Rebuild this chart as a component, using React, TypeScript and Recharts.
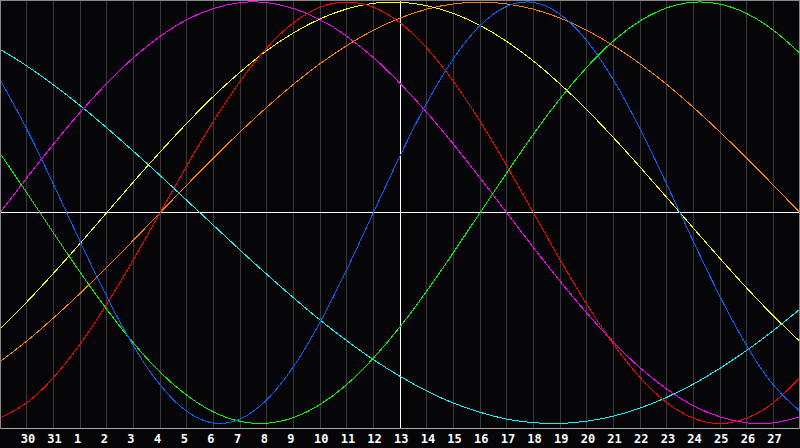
import React from 'react';
import { LineChart, Line, XAxis, YAxis, CartesianGrid, ReferenceLine } from 'recharts';

const dayLabels = ['29','30','31','1','2','3','4','5','6','7','8','9','10','11','12','13','14','15','16','17','18','19','20','21','22','23','24','25','26','27','28'];
const tickIdx = [1,2,3,4,5,6,7,8,9,10,11,12,13,14,15,16,17,18,19,20,21,22,23,24,25,26,27,28,29];

const red = [-0.975,-0.901,-0.782,-0.623,-0.434,-0.223,0,0.223,0.434,0.623,0.782,0.901,0.975,1.0,0.975,0.901,0.782,0.623,0.434,0.223,0,-0.223,-0.434,-0.623,-0.782,-0.901,-0.975,-1.0,-0.975,-0.901,-0.782];
const green = [0.282,0.095,-0.095,-0.282,-0.458,-0.618,-0.756,-0.866,-0.945,-0.990,-0.999,-0.972,-0.910,-0.815,-0.690,-0.541,-0.372,-0.189,0,0.189,0.372,0.541,0.690,0.815,0.910,0.972,0.999,0.990,0.945,0.866,0.756];
const blue = [0.631,0.398,0.136,-0.136,-0.398,-0.631,-0.817,-0.942,-0.998,-0.979,-0.888,-0.731,-0.520,-0.270,0,0.270,0.520,0.731,0.888,0.979,0.998,0.942,0.817,0.631,0.398,0.136,-0.136,-0.398,-0.631,-0.817,-0.942];
const cyan = [0.776,0.697,0.607,0.509,0.403,0.292,0.177,0.059,-0.059,-0.177,-0.292,-0.403,-0.509,-0.607,-0.697,-0.776,-0.846,-0.903,-0.947,-0.979,-0.996,-1.0,-0.989,-0.965,-0.927,-0.876,-0.813,-0.738,-0.653,-0.559,-0.457];
const magenta = [0,0.165,0.325,0.476,0.614,0.736,0.837,0.916,0.969,0.997,0.997,0.969,0.916,0.837,0.736,0.614,0.476,0.325,0.165,0,-0.165,-0.325,-0.476,-0.614,-0.736,-0.837,-0.916,-0.969,-0.997,-0.997,-0.969];
const yellow = [-0.552,-0.424,-0.288,-0.146,0,0.146,0.288,0.424,0.552,0.667,0.769,0.853,0.920,0.967,0.994,0.999,0.983,0.946,0.889,0.813,0.720,0.611,0.489,0.357,0.217,0.073,-0.073,-0.217,-0.357,-0.489,-0.611];
const orange = [-0.707,-0.609,-0.5,-0.383,-0.259,-0.131,0,0.131,0.259,0.383,0.5,0.609,0.707,0.793,0.866,0.924,0.966,0.991,1.0,0.991,0.966,0.924,0.866,0.793,0.707,0.609,0.5,0.383,0.259,0.131,0];

const data = dayLabels.map((d, i) => ({
  k: i,
  red: red[i],
  green: green[i],
  blue: blue[i],
  cyan: cyan[i],
  magenta: magenta[i],
  yellow: yellow[i],
  orange: orange[i],
}));

const series = [
  { key: 'cyan', color: '#00ffff' },
  { key: 'magenta', color: '#ff00ff' },
  { key: 'orange', color: '#ff8000' },
  { key: 'yellow', color: '#ffff00' },
  { key: 'green', color: '#00ff00' },
  { key: 'red', color: '#ff0000' },
  { key: 'blue', color: '#0066ff' },
];

const Tick = (props: any) => {
  const { x, payload } = props;
  return (
    <text x={x - 6} y={443} fill="#ffffff" fontSize={12} fontWeight="bold" fontFamily="DejaVu Sans Mono" textAnchor="start">
      {dayLabels[payload.value]}
    </text>
  );
};

export default function App() {
  return (
    <div style={{ position: 'absolute', left: 0, top: 0, width: 800, height: 448, background: '#050507' }}>
      <LineChart width={800} height={448} data={data} margin={{ top: 0, right: 0, left: 0, bottom: 0 }}>
        <CartesianGrid horizontal={false} vertical={true} stroke="#3a3a3a" strokeWidth={1} shapeRendering="crispEdges" />
        <XAxis
          dataKey="k"
          type="number"
          domain={[0, 30]}
          ticks={tickIdx}
          interval={0}
          height={20}
          tickLine={false}
          axisLine={{ stroke: '#aaaaaa', strokeWidth: 1, shapeRendering: 'crispEdges' }}
          tick={<Tick />}
          allowDataOverflow
        />
        <YAxis hide type="number" domain={[-1.0214, 1.0095]} allowDataOverflow />
        <ReferenceLine y={0} stroke="#ffffff" strokeWidth={1} shapeRendering="crispEdges" />
        <ReferenceLine x={15} stroke="#ffffff" strokeWidth={1} shapeRendering="crispEdges" />
        {series.map((s) => (
          <Line
            key={s.key}
            dataKey={s.key}
            type="natural"
            stroke={s.color}
            strokeWidth={1}
            dot={false}
            activeDot={false}
            isAnimationActive={false}
            shapeRendering="crispEdges"
          />
        ))}
      </LineChart>
      <div style={{ position: 'absolute', left: 0, top: 0, width: 800, height: 429, boxSizing: 'border-box', borderTop: '1px solid #888', borderLeft: '1px solid #888', borderRight: '1px solid #888', pointerEvents: 'none' }} />
    </div>
  );
}
